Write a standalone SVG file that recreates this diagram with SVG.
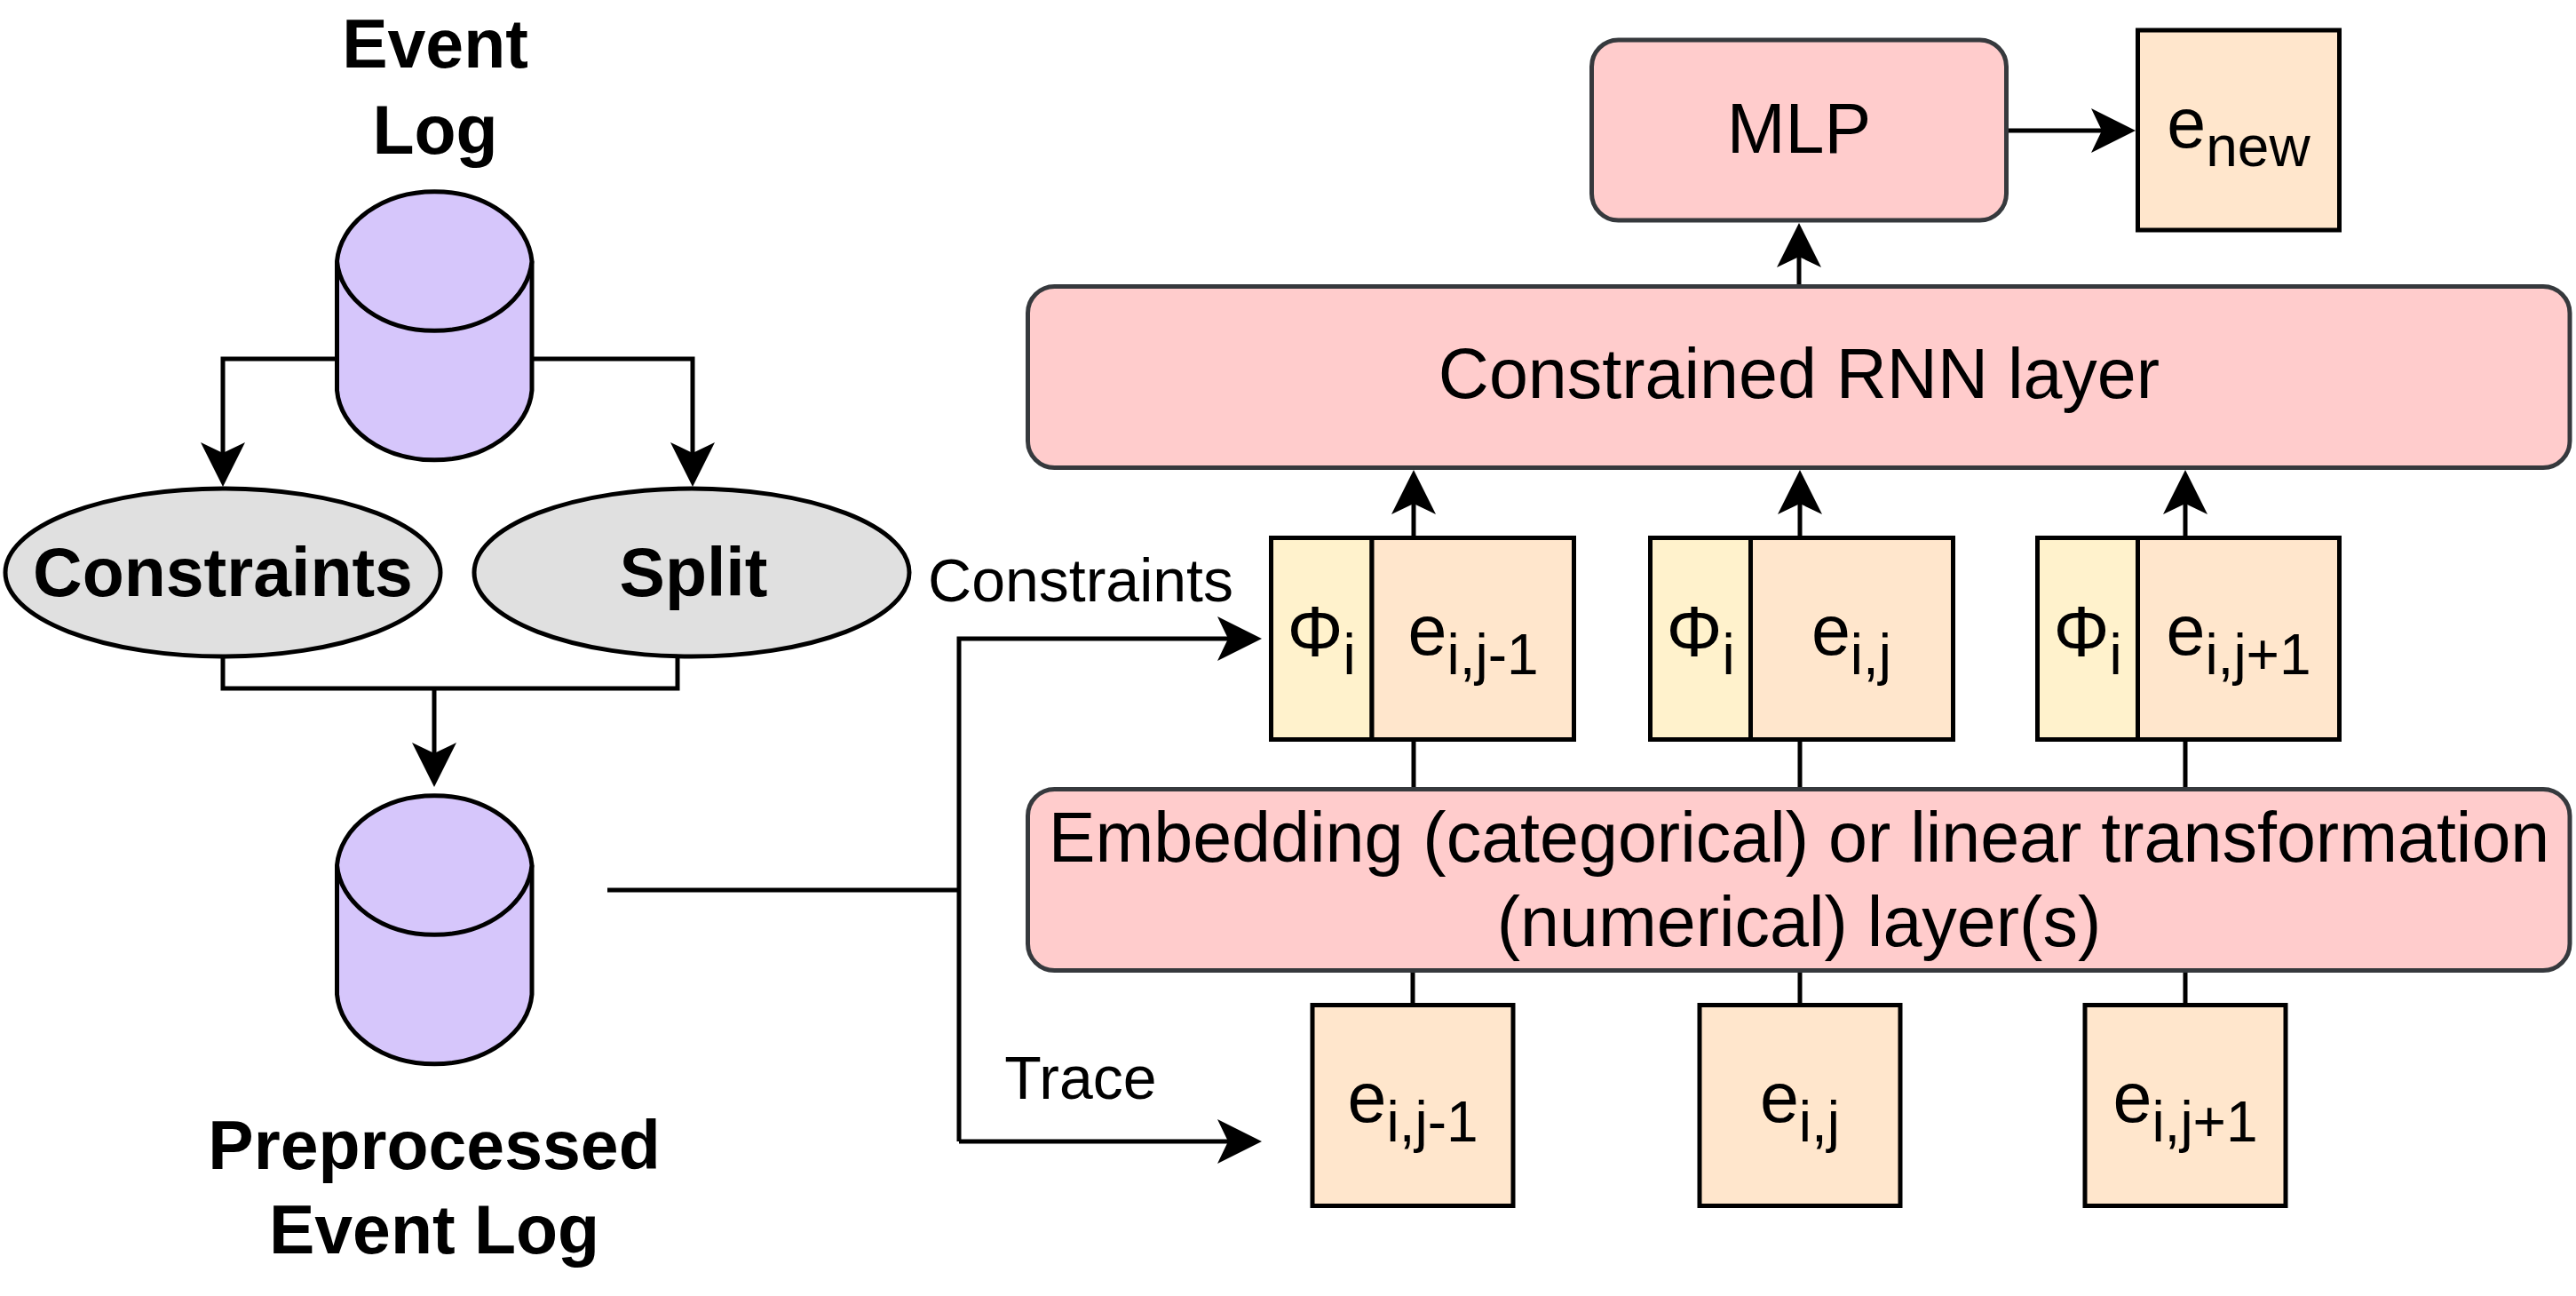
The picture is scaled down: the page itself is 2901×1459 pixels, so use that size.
<svg xmlns="http://www.w3.org/2000/svg" width="2901" height="1459" viewBox="0 0 2901 1459">
<style>
.ln{fill:none;stroke:#000;stroke-width:5}
.rb{fill:#FFCCCC;stroke:#36393D;stroke-width:5}
.bx{stroke:#000;stroke-width:5}
.phi{fill:#FFF2CC}
.ev{fill:#FFE6CC}
.cyl{fill:#D6C6FB;stroke:#000;stroke-width:5}
.ell{fill:#E0E0E0;stroke:#000;stroke-width:5}
.t{font-family:"Liberation Sans",Arial,sans-serif;fill:#000;text-anchor:middle}
.b{font-weight:bold;font-size:77px}
.m{font-size:79px}
.lab{font-size:68px}
.s{font-size:64px}
</style>
<defs>
<marker id="arr" markerUnits="userSpaceOnUse" viewBox="0 -26 52 52" markerWidth="52" markerHeight="52" refX="12" refY="0" orient="auto">
<path d="M0,-25 L50,0 L0,25 L12,0 Z" fill="#000"/>
</marker>
</defs>
<rect width="2901" height="1459" fill="#fff"/>

<g id="connectors">
<path class="ln" d="M379.5,404 H251 V510" marker-end="url(#arr)"/>
<path class="ln" d="M599,404 H780 V510" marker-end="url(#arr)"/>
<path class="ln" d="M251,739 V775 H763 V739"/>
<path class="ln" d="M489,775 V848" marker-end="url(#arr)"/>
<path class="ln" d="M684,1002 H1080"/>
<path class="ln" d="M1080,1285 V719 H1383" marker-end="url(#arr)"/>
<path class="ln" d="M1080,1285 H1383" marker-end="url(#arr)"/>
<path class="ln" d="M2026,320 V289" marker-end="url(#arr)"/>
<path class="ln" d="M2259.5,147 H2367" marker-end="url(#arr)"/>
<path class="ln" d="M1592,603 V567" marker-end="url(#arr)"/>
<path class="ln" d="M2027,603 V567" marker-end="url(#arr)"/>
<path class="ln" d="M2461,603 V567" marker-end="url(#arr)"/>
<path class="ln" d="M1592,835 V886 M2027,835 V886 M2461,835 V886"/>
<path class="ln" d="M1591,1095 V1129 M2027,1095 V1129 M2461,1095 V1129"/>
<text class="t lab" x="1217" y="677">Constraints</text>
<text class="t lab" x="1217" y="1237">Trace</text>
</g>

<g id="event-log">
<path class="cyl" d="M379.5,294 A110,84 0 0 1 599,294 V439.5 A110,84 0 0 1 379.5,439.5 Z"/>
<path class="cyl" d="M379.5,294 A110,84 0 0 0 599,294" fill="none"/>
<text class="t b" x="490" y="76">Event</text>
<text class="t b" x="490" y="173">Log</text>
</g>

<g id="constraints">
<ellipse class="ell" cx="251" cy="644.5" rx="245" ry="94.5"/>
<text class="t b" x="251" y="671">Constraints</text>
</g>

<g id="split">
<ellipse class="ell" cx="779" cy="644.5" rx="245" ry="94.5"/>
<text class="t b" x="781" y="671">Split</text>
</g>

<g id="preprocessed-event-log">
<path class="cyl" d="M379.5,974 A110,84 0 0 1 599,974 V1119.5 A110,84 0 0 1 379.5,1119.5 Z"/>
<path class="cyl" d="M379.5,974 A110,84 0 0 0 599,974" fill="none"/>
<text class="t b" x="489" y="1316">Preprocessed</text>
<text class="t b" x="489" y="1411">Event Log</text>
</g>

<g id="mlp">
<rect class="rb" x="1792.5" y="45" width="467" height="203" rx="30"/>
<text class="t m" x="2026" y="172">MLP</text>
</g>

<g id="e-new">
<rect class="bx ev" x="2407.5" y="34" width="227" height="225"/>
<text class="t m" x="2521" y="166">e<tspan class="s" dy="21">new</tspan></text>
</g>

<g id="rnn-layer">
<rect class="rb" x="1157.5" y="322.5" width="1736.5" height="204" rx="30"/>
<text class="t m" x="2026" y="448">Constrained RNN layer</text>
</g>

<g id="input-1">
<rect class="bx phi" x="1431.5" y="605.5" width="113.5" height="227"/>
<rect class="bx ev" x="1545" y="605.5" width="227.5" height="227"/>
<text class="t m" x="1488" y="738">Φ<tspan class="s" dy="21">i</tspan></text>
<text class="t m" x="1659" y="737">e<tspan class="s" dy="22">i,j-1</tspan></text>
</g>

<g id="input-2">
<rect class="bx phi" x="1858.5" y="605.5" width="113" height="227"/>
<rect class="bx ev" x="1971.5" y="605.5" width="228" height="227"/>
<text class="t m" x="1915" y="738">Φ<tspan class="s" dy="21">i</tspan></text>
<text class="t m" x="2085" y="737">e<tspan class="s" dy="22">i,j</tspan></text>
</g>

<g id="input-3">
<rect class="bx phi" x="2294.5" y="605.5" width="113" height="227"/>
<rect class="bx ev" x="2407.5" y="605.5" width="227" height="227"/>
<text class="t m" x="2351" y="738">Φ<tspan class="s" dy="21">i</tspan></text>
<text class="t m" x="2521" y="737">e<tspan class="s" dy="22">i,j+1</tspan></text>
</g>

<g id="embedding-layer">
<rect class="rb" x="1157.5" y="888.5" width="1736.5" height="204" rx="30"/>
<text class="t m" x="2026" y="970">Embedding (categorical) or linear transformation</text>
<text class="t m" x="2026" y="1065">(numerical) layer(s)</text>
</g>

<g id="trace-1">
<rect class="bx ev" x="1478" y="1131.5" width="226" height="226"/>
<text class="t m" x="1591" y="1263">e<tspan class="s" dy="22">i,j-1</tspan></text>
</g>

<g id="trace-2">
<rect class="bx ev" x="1914" y="1131.5" width="226" height="226"/>
<text class="t m" x="2027" y="1263">e<tspan class="s" dy="22">i,j</tspan></text>
</g>

<g id="trace-3">
<rect class="bx ev" x="2348" y="1131.5" width="226" height="226"/>
<text class="t m" x="2461" y="1263">e<tspan class="s" dy="22">i,j+1</tspan></text>
</g>
</svg>
